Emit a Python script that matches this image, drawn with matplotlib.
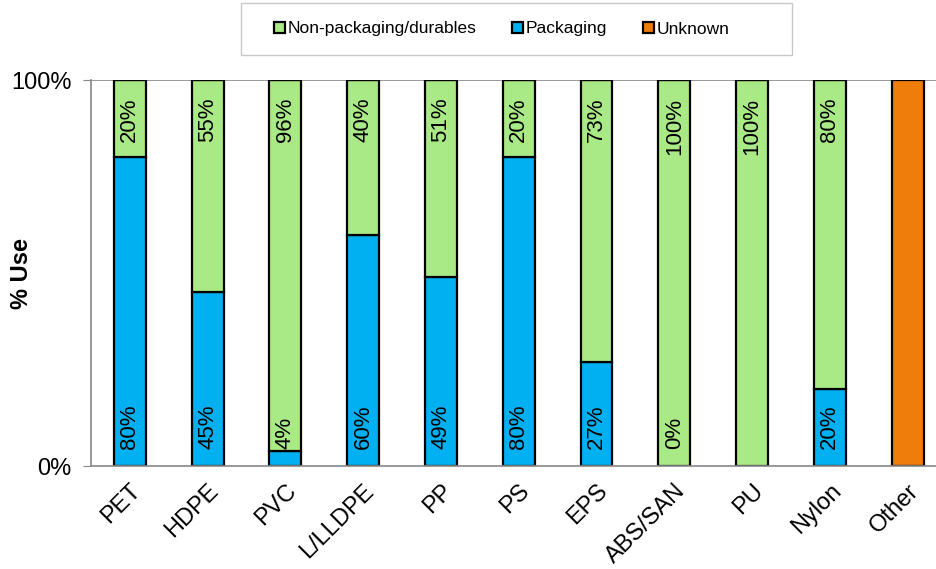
import numpy as np
import matplotlib.pyplot as plt
from matplotlib.patches import Rectangle

plt.rcParams['font.family'] = ['Liberation Sans', 'DejaVu Sans']

resins = ['PET', 'HDPE', 'PVC', 'L/LLDPE', 'PP', 'PS', 'EPS', 'ABS/SAN', 'PU', 'Nylon', 'Other']
packaging = [80, 45, 4, 60, 49, 80, 27, 0, 0, 20, 0]
durables = [20, 55, 96, 40, 51, 20, 73, 100, 100, 80, 0]
unknown = [0, 0, 0, 0, 0, 0, 0, 0, 0, 0, 100]
pack_labels = ['80%', '45%', '4%', '60%', '49%', '80%', '27%', '0%', '', '20%', '']
dur_labels = ['20%', '55%', '96%', '40%', '51%', '20%', '73%', '100%', '100%', '80%', '']

green = '#aaea86'
blue = '#00b0f0'
orange = '#ef7d0c'

fig = plt.figure(figsize=(9.36, 5.69), dpi=100)
ax = fig.add_axes([0.0972, 0.181, 0.914, 0.678])

x = np.arange(len(resins))
pack = np.array(packaging) / 100
dur = np.array(durables) / 100
unk = np.array(unknown) / 100
w = 0.41
ax.bar(x, pack, w, color=blue, edgecolor='black', linewidth=1.6, label='Packaging')
ax.bar(x, dur, w, bottom=pack, color=green, edgecolor='black', linewidth=1.6,
       label='Non-packaging/durables')
ax.bar(x, unk, w, bottom=pack + dur, color=orange, edgecolor='black', linewidth=1.6,
       label='Unknown')

for i in range(len(resins)):
    if pack_labels[i]:
        ax.text(x[i], 0.045, pack_labels[i], rotation=90, ha='center', va='bottom',
                fontsize=16)
    if dur_labels[i]:
        ax.text(x[i], 0.955, dur_labels[i], rotation=90, ha='center', va='top',
                fontsize=16)

ax.set_xlim(-0.5, len(resins) - 0.5)
ax.set_ylim(0, 1)
ax.set_yticks([0, 1])
ax.set_yticklabels(['0%', '100%'], fontsize=17)
ax.set_xticks(x)
ax.set_xticklabels(resins, fontsize=17, rotation=45, ha='right', va='top',
                   rotation_mode='anchor')
ax.tick_params(axis='x', length=0, pad=10)
ax.tick_params(axis='y', length=6, color='#888888', pad=8)
ax.axhline(1, color='#888888', linewidth=1.2, zorder=0)
for side in ['top', 'right']:
    ax.spines[side].set_visible(False)
for side in ['left', 'bottom']:
    ax.spines[side].set_color('#888888')
    ax.spines[side].set_linewidth(1.2)
ax.set_ylabel('% Use', fontsize=17, fontweight='bold')
ax.yaxis.set_label_coords(-0.0678, 0.5)

# legend box
fig.patches.append(Rectangle((241 / 936, 1 - 55 / 569), 551 / 936, 52 / 569,
                             transform=fig.transFigure, facecolor='white',
                             edgecolor='#c8c8c8', linewidth=1))
handles, labels = ax.get_legend_handles_labels()
order = [1, 0, 2]
fig.legend([handles[i] for i in order], [labels[i] for i in order],
           loc='center', bbox_to_anchor=(0.536, 1 - 29 / 569), ncol=3,
           frameon=False, fontsize=12.5, handlelength=0.6, handleheight=0.6,
           handletextpad=0.15, columnspacing=2.1)

fig.savefig('out.png', dpi=100)
